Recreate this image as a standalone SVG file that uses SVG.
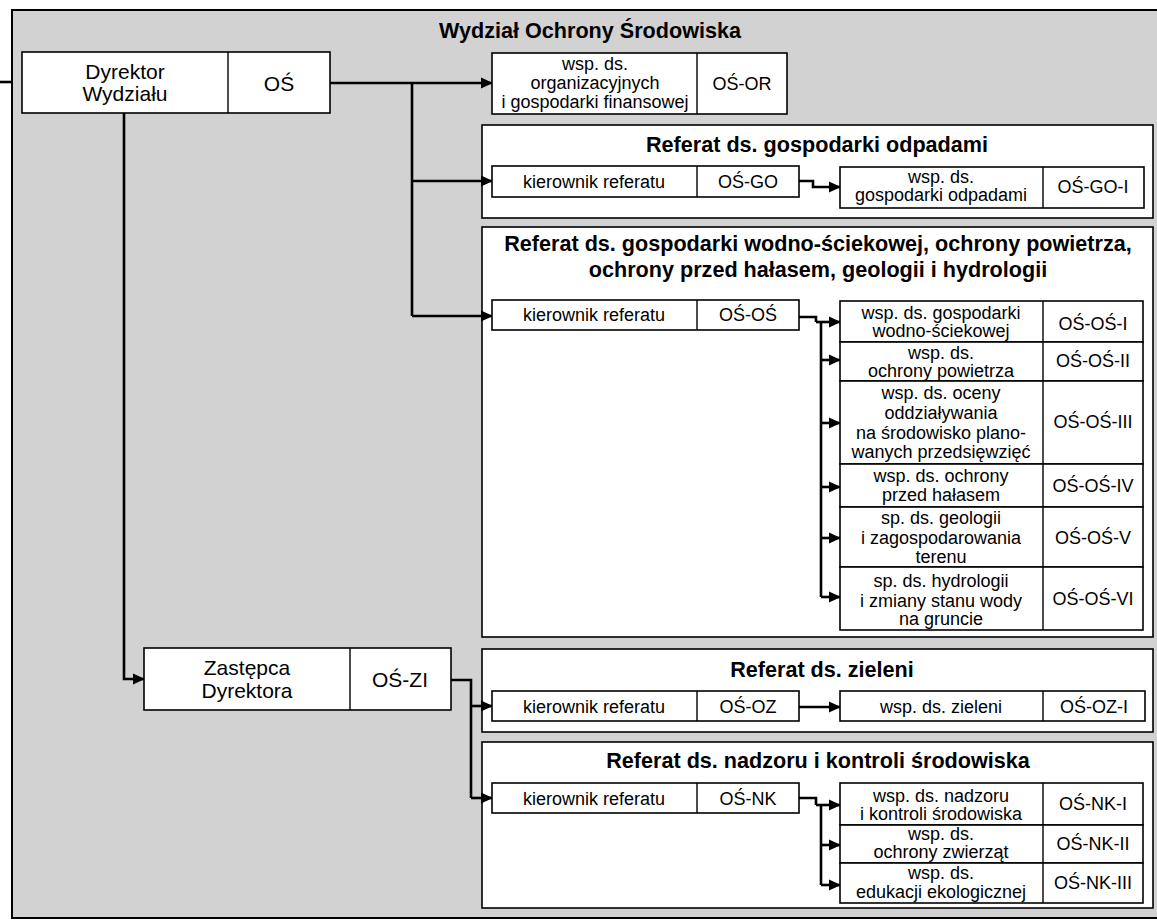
<svg xmlns="http://www.w3.org/2000/svg" width="1157" height="921" viewBox="0 0 1157 921">
<style>
  text { font-family: "Liberation Sans", Arial, sans-serif; fill: #000; text-anchor: middle; }
  .t { font-size: 18px; }
  .big { font-size: 21px; }
  .h { font-size: 21.6px; font-weight: bold; }
  .box { fill: #fff; stroke: #000; stroke-width: 1.6; }
  .sec { fill: #fff; stroke: #000; stroke-width: 1.6; }
  .div { stroke: #000; stroke-width: 1.4; }
  .c { fill: none; stroke: #000; stroke-width: 2.6; }
  .ca { fill: none; stroke: #000; stroke-width: 2.6; marker-end: url(#ah); }
</style>
<defs>
  <marker id="ah" markerUnits="userSpaceOnUse" markerWidth="12" markerHeight="12" refX="11" refY="6" orient="auto">
    <path d="M0,0.5 L12,6 L0,11.5 Z" fill="#000"/>
  </marker>
</defs>
<rect x="0" y="0" width="1157" height="921" fill="#fff"/>
<g id="frame">
  <rect x="12" y="10" width="1150" height="908" fill="#d2d2d2" stroke="#000" stroke-width="2"/>
  <text class="h" x="590" y="38">Wydział Ochrony Środowiska</text>
</g>

<g id="sec-go">
  <rect class="sec" x="482" y="125" width="671" height="93"/>
  <text class="h" x="817" y="152">Referat ds. gospodarki odpadami</text>
</g>
<g id="sec-os">
  <rect class="sec" x="482" y="227" width="671" height="410"/>
  <text class="h" x="818" y="251">Referat ds. gospodarki wodno-ściekowej, ochrony powietrza,</text>
  <text class="h" x="818" y="277">ochrony przed hałasem, geologii i hydrologii</text>
</g>
<g id="sec-oz">
  <rect class="sec" x="482" y="649" width="671" height="83"/>
  <text class="h" x="822" y="677">Referat ds. zieleni</text>
</g>
<g id="sec-nk">
  <rect class="sec" x="482" y="742" width="671" height="166"/>
  <text class="h" x="818" y="768">Referat ds. nadzoru i kontroli środowiska</text>
</g>

<g id="connectors">
  <path class="c" d="M0,82 H12"/>
  <path class="ca" d="M330,83 H492"/>
  <path class="c" d="M412,83 V316"/>
  <path class="ca" d="M412,181 H492"/>
  <path class="ca" d="M412,316 H492"/>
  <path class="ca" d="M124,113 V679 H144"/>
  <path class="ca" d="M799,181 H813 V187 H840"/>
  <path class="c" d="M799,317 H816 V322"/>
  <path class="c" d="M821,322 V597"/>
  <path class="ca" d="M816,322 H840"/>
  <path class="ca" d="M821,360 H840"/>
  <path class="ca" d="M821,423 H840"/>
  <path class="ca" d="M821,487 H840"/>
  <path class="ca" d="M821,538 H840"/>
  <path class="ca" d="M821,597 H840"/>
  <path class="c" d="M451,680 H471 V798"/>
  <path class="ca" d="M471,706 H492"/>
  <path class="ca" d="M471,798 H492"/>
  <path class="ca" d="M799,707 H840"/>
  <path class="c" d="M799,798 H816 V805"/>
  <path class="c" d="M821,805 V885"/>
  <path class="ca" d="M816,805 H840"/>
  <path class="ca" d="M821,845 H840"/>
  <path class="ca" d="M821,885 H840"/>
</g>

<g id="dyrektor">
  <rect class="box" x="22" y="52" width="308" height="61"/>
  <line class="div" x1="228" y1="52" x2="228" y2="113"/>
  <text class="big" x="125" y="79">Dyrektor</text>
  <text class="big" x="125" y="101">Wydziału</text>
  <text class="big" x="279" y="91">OŚ</text>
</g>

<g id="or">
  <rect class="box" x="492" y="53" width="295" height="61"/>
  <line class="div" x1="697" y1="53" x2="697" y2="114"/>
  <text class="t" x="595" y="70">wsp. ds.</text>
  <text class="t" x="595" y="89">organizacyjnych</text>
  <text class="t" x="595" y="108">i gospodarki finansowej</text>
  <text class="t" x="742" y="90">OŚ-OR</text>
</g>

<g id="go-kier">
  <rect class="box" x="492" y="166" width="307" height="31"/>
  <line class="div" x1="697" y1="166" x2="697" y2="197"/>
  <text class="t" x="594" y="188">kierownik referatu</text>
  <text class="t" x="748" y="188">OŚ-GO</text>
</g>
<g id="go-i">
  <rect class="box" x="840" y="167" width="304" height="41"/>
  <line class="div" x1="1043" y1="167" x2="1043" y2="208"/>
  <text class="t" x="941" y="183">wsp. ds.</text>
  <text class="t" x="941" y="201">gospodarki odpadami</text>
  <text class="t" x="1093" y="193">OŚ-GO-I</text>
</g>

<g id="os-kier">
  <rect class="box" x="492" y="300" width="307" height="30"/>
  <line class="div" x1="697" y1="300" x2="697" y2="330"/>
  <text class="t" x="594" y="321">kierownik referatu</text>
  <text class="t" x="748" y="321">OŚ-OŚ</text>
</g>
<g id="os-i">
  <rect class="box" x="840" y="301" width="303" height="41"/>
  <line class="div" x1="1043" y1="301" x2="1043" y2="342"/>
  <text class="t" x="941" y="319">wsp. ds. gospodarki</text>
  <text class="t" x="941" y="337">wodno-ściekowej</text>
  <text class="t" x="1093" y="330">OŚ-OŚ-I</text>
</g>
<g id="os-ii">
  <rect class="box" x="840" y="342" width="303" height="39"/>
  <line class="div" x1="1043" y1="342" x2="1043" y2="381"/>
  <text class="t" x="941" y="359">wsp. ds.</text>
  <text class="t" x="941" y="377">ochrony powietrza</text>
  <text class="t" x="1093" y="367">OŚ-OŚ-II</text>
</g>
<g id="os-iii">
  <rect class="box" x="840" y="381" width="303" height="83"/>
  <line class="div" x1="1043" y1="381" x2="1043" y2="464"/>
  <text class="t" x="941" y="399">wsp. ds. oceny</text>
  <text class="t" x="941" y="419">oddziaływania</text>
  <text class="t" x="941" y="439">na środowisko plano-</text>
  <text class="t" x="941" y="458">wanych przedsięwzięć</text>
  <text class="t" x="1093" y="428">OŚ-OŚ-III</text>
</g>
<g id="os-iv">
  <rect class="box" x="840" y="464" width="303" height="43"/>
  <line class="div" x1="1043" y1="464" x2="1043" y2="507"/>
  <text class="t" x="941" y="482">wsp. ds. ochrony</text>
  <text class="t" x="941" y="501">przed hałasem</text>
  <text class="t" x="1093" y="492">OŚ-OŚ-IV</text>
</g>
<g id="os-v">
  <rect class="box" x="840" y="507" width="303" height="60"/>
  <line class="div" x1="1043" y1="507" x2="1043" y2="567"/>
  <text class="t" x="941" y="524">sp. ds. geologii</text>
  <text class="t" x="941" y="544">i zagospodarowania</text>
  <text class="t" x="941" y="563">terenu</text>
  <text class="t" x="1093" y="544">OŚ-OŚ-V</text>
</g>
<g id="os-vi">
  <rect class="box" x="840" y="567" width="303" height="63"/>
  <line class="div" x1="1043" y1="567" x2="1043" y2="630"/>
  <text class="t" x="941" y="587">sp. ds. hydrologii</text>
  <text class="t" x="941" y="607">i zmiany stanu wody</text>
  <text class="t" x="941" y="625">na gruncie</text>
  <text class="t" x="1093" y="605">OŚ-OŚ-VI</text>
</g>

<g id="zastepca">
  <rect class="box" x="144" y="648" width="307" height="62"/>
  <line class="div" x1="350" y1="648" x2="350" y2="710"/>
  <text class="big" x="247" y="675">Zastępca</text>
  <text class="big" x="247" y="698">Dyrektora</text>
  <text class="big" x="400" y="687">OŚ-ZI</text>
</g>

<g id="oz-kier">
  <rect class="box" x="492" y="691" width="307" height="30"/>
  <line class="div" x1="697" y1="691" x2="697" y2="721"/>
  <text class="t" x="594" y="713">kierownik referatu</text>
  <text class="t" x="748" y="713">OŚ-OZ</text>
</g>
<g id="oz-i">
  <rect class="box" x="840" y="691" width="305" height="30"/>
  <line class="div" x1="1043" y1="691" x2="1043" y2="721"/>
  <text class="t" x="941" y="713">wsp. ds. zieleni</text>
  <text class="t" x="1094" y="713">OŚ-OZ-I</text>
</g>

<g id="nk-kier">
  <rect class="box" x="492" y="783" width="307" height="30"/>
  <line class="div" x1="697" y1="783" x2="697" y2="813"/>
  <text class="t" x="594" y="805">kierownik referatu</text>
  <text class="t" x="748" y="805">OŚ-NK</text>
</g>
<g id="nk-i">
  <rect class="box" x="840" y="783" width="303" height="42"/>
  <line class="div" x1="1043" y1="783" x2="1043" y2="825"/>
  <text class="t" x="941" y="802">wsp. ds. nadzoru</text>
  <text class="t" x="941" y="820">i kontroli środowiska</text>
  <text class="t" x="1093" y="810">OŚ-NK-I</text>
</g>
<g id="nk-ii">
  <rect class="box" x="840" y="825" width="303" height="38"/>
  <line class="div" x1="1043" y1="825" x2="1043" y2="863"/>
  <text class="t" x="941" y="840">wsp. ds.</text>
  <text class="t" x="941" y="858">ochrony zwierząt</text>
  <text class="t" x="1093" y="850">OŚ-NK-II</text>
</g>
<g id="nk-iii">
  <rect class="box" x="840" y="863" width="303" height="40"/>
  <line class="div" x1="1043" y1="863" x2="1043" y2="903"/>
  <text class="t" x="941" y="879">wsp. ds.</text>
  <text class="t" x="941" y="898">edukacji ekologicznej</text>
  <text class="t" x="1093" y="889">OŚ-NK-III</text>
</g>
</svg>
